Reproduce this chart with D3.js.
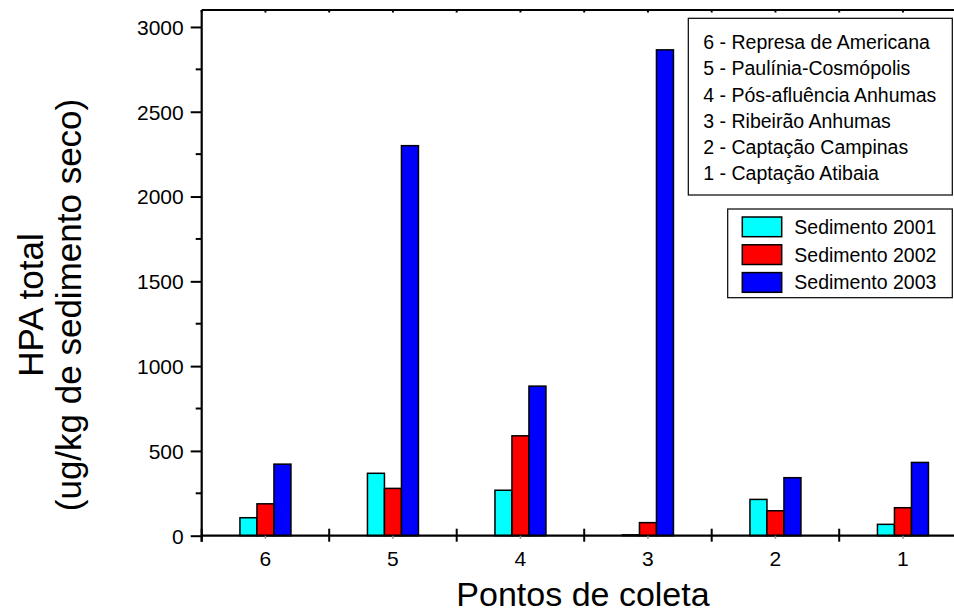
<!DOCTYPE html>
<html>
<head>
<meta charset="utf-8">
<script src="https://cdn.jsdelivr.net/npm/d3@7"></script>
<style>
  html, body { margin: 0; padding: 0; background: #fff; }
  svg { display: block; }
  text { font-family: "Liberation Sans", Arial, sans-serif; fill: #000; }
</style>
</head>
<body>
<svg id="chart" width="954" height="614"></svg>
<script>
// Sampling points, left to right
const points = ["6", "5", "4", "3", "2", "1"];
// Total PAH per sediment campaign (ug/kg dry sediment)
const sed2001 = [106, 368, 268, 5, 214, 67];
const sed2002 = [188, 279, 589, 77, 147, 165];
const sed2003 = [422, 2300, 882, 2865, 342, 432];
const seriesNames = ["Sedimento 2001", "Sedimento 2002", "Sedimento 2003"];
const seriesColors = ["#00ffff", "#ff0000", "#0000ff"];
const yTicks = [0, 500, 1000, 1500, 2000, 2500, 3000];
const pointNames = [
  "6 - Represa de Americana",
  "5 - Paulínia-Cosmópolis",
  "4 - Pós-afluência Anhumas",
  "3 - Ribeirão Anhumas",
  "2 - Captação Campinas",
  "1 - Captação Atibaia"
];

const seriesValues = [sed2001, sed2002, sed2003];

const svg = d3.select("#chart");
const plotL = 201.7, plotR = 966.7, plotT = 10, plotB = 535.7;

const x = d3.scaleBand().domain(points).range([plotL, plotR]).padding(0);
const y = d3.scaleLinear().domain([0, 3100]).range([plotB, plotT]);
const groupW = x.bandwidth() * 0.4;
const xs = d3.scaleBand().domain(seriesNames).range([0, groupW]).padding(0);

// Bars
seriesNames.forEach((name, si) => {
  svg.append("g")
    .selectAll("rect")
    .data(points.map((p, i) => ({ p, v: seriesValues[si][i] })))
    .join("rect")
    .attr("x", d => x(d.p) + x.bandwidth() / 2 - groupW / 2 + xs(name))
    .attr("y", d => y(d.v))
    .attr("width", xs.bandwidth())
    .attr("height", d => plotB - y(d.v))
    .attr("fill", seriesColors[si])
    .attr("stroke", "#000")
    .attr("stroke-width", 1.5);
});

// Y axis: labelled majors and unlabelled minors
const yAxis = d3.axisLeft(y).tickValues(yTicks).tickSize(11).tickPadding(7).tickFormat(d3.format("d"));
const gy = svg.append("g").attr("transform", `translate(${plotL},0)`).call(yAxis);
gy.select(".domain").remove();
gy.selectAll(".tick line").attr("stroke-width", 2);
gy.selectAll(".tick text").style("font-size", "21px").attr("dy", "0.35em");
const minor = d3.range(250, 3100, 500);
svg.append("g").selectAll("line").data(minor).join("line")
  .attr("x1", plotL - 6).attr("x2", plotL)
  .attr("y1", d => y(d)).attr("y2", d => y(d))
  .attr("stroke", "#000").attr("stroke-width", 2);

// Frame lines: left and top
svg.append("line").attr("x1", plotL).attr("x2", plotL).attr("y1", plotT).attr("y2", plotB + 6)
  .attr("stroke", "#000").attr("stroke-width", 2.2);
svg.append("line").attr("x1", plotL).attr("x2", plotR).attr("y1", plotT).attr("y2", plotT)
  .attr("stroke", "#000").attr("stroke-width", 2.2);

// Small ticks on the top frame at every half band
const halfPos = d3.range(0, points.length * 2 + 1).map(k => plotL + k * x.bandwidth() / 2);
svg.append("g").selectAll("line").data(halfPos).join("line")
  .attr("x1", d => d).attr("x2", d => d).attr("y1", plotT).attr("y2", plotT + 2.5)
  .attr("stroke", "#000").attr("stroke-width", 2);

// X axis
const xAxis = d3.axisBottom(x).tickSize(0).tickPadding(15);
const gx = svg.append("g").attr("transform", `translate(0,${plotB})`).call(xAxis);
gx.select(".domain").remove();
gx.selectAll(".tick text").style("font-size", "21px");
svg.append("line").attr("x1", plotL).attr("x2", plotR).attr("y1", plotB).attr("y2", plotB)
  .attr("stroke", "#000").attr("stroke-width", 2.2);
// Category boundary ticks crossing the axis
const bounds = d3.range(0, points.length + 1).map(k => plotL + k * x.bandwidth());
svg.append("g").selectAll("line").data(bounds).join("line")
  .attr("x1", d => d).attr("x2", d => d).attr("y1", plotB - 7).attr("y2", plotB + 6)
  .attr("stroke", "#000").attr("stroke-width", 2);
svg.append("g").selectAll("line").data(points).join("line")
  .attr("x1", d => x(d) + x.bandwidth() / 2).attr("x2", d => x(d) + x.bandwidth() / 2)
  .attr("y1", plotB).attr("y2", plotB + 3)
  .attr("stroke", "#888").attr("stroke-width", 1.5);

// Axis titles
svg.append("text")
  .attr("x", 583).attr("y", 606)
  .attr("text-anchor", "middle")
  .style("font-size", "34px")
  .text("Pontos de coleta");

const yt = svg.append("text")
  .attr("transform", "translate(0,305) rotate(-90)")
  .attr("text-anchor", "middle")
  .style("font-size", "35px");
yt.append("tspan").attr("x", 0).attr("y", 43).text("HPA total");
yt.append("tspan").attr("x", 0).attr("y", 81).text("(ug/kg de sedimento seco)");

// Legend listing the sampling points
const lg1 = svg.append("g");
lg1.append("rect").attr("x", 688.3).attr("y", 18.3).attr("width", 264).attr("height", 176.7)
  .attr("fill", "#fff").attr("stroke", "#000").attr("stroke-width", 1.2);
lg1.selectAll("text").data(pointNames).join("text")
  .attr("x", 703.3).attr("y", (d, i) => 42.3 + i * 26.2).attr("dy", "0.35em")
  .style("font-size", "19.5px")
  .text(d => d);

// Legend for the series
const lg2 = svg.append("g");
lg2.append("rect").attr("x", 727.7).attr("y", 209).attr("width", 224.6).attr("height", 88.7)
  .attr("fill", "#fff").attr("stroke", "#000").attr("stroke-width", 1.2);
seriesNames.forEach((name, i) => {
  lg2.append("rect").attr("x", 742.3).attr("y", 217 + i * 27.8).attr("width", 39.4).attr("height", 19.7)
    .attr("fill", seriesColors[i]).attr("stroke", "#000").attr("stroke-width", 1.5);
  lg2.append("text").attr("x", 794.3).attr("y", 227 + i * 27.8).attr("dy", "0.35em")
    .style("font-size", "19.5px").text(name);
});
</script>
</body>
</html>
